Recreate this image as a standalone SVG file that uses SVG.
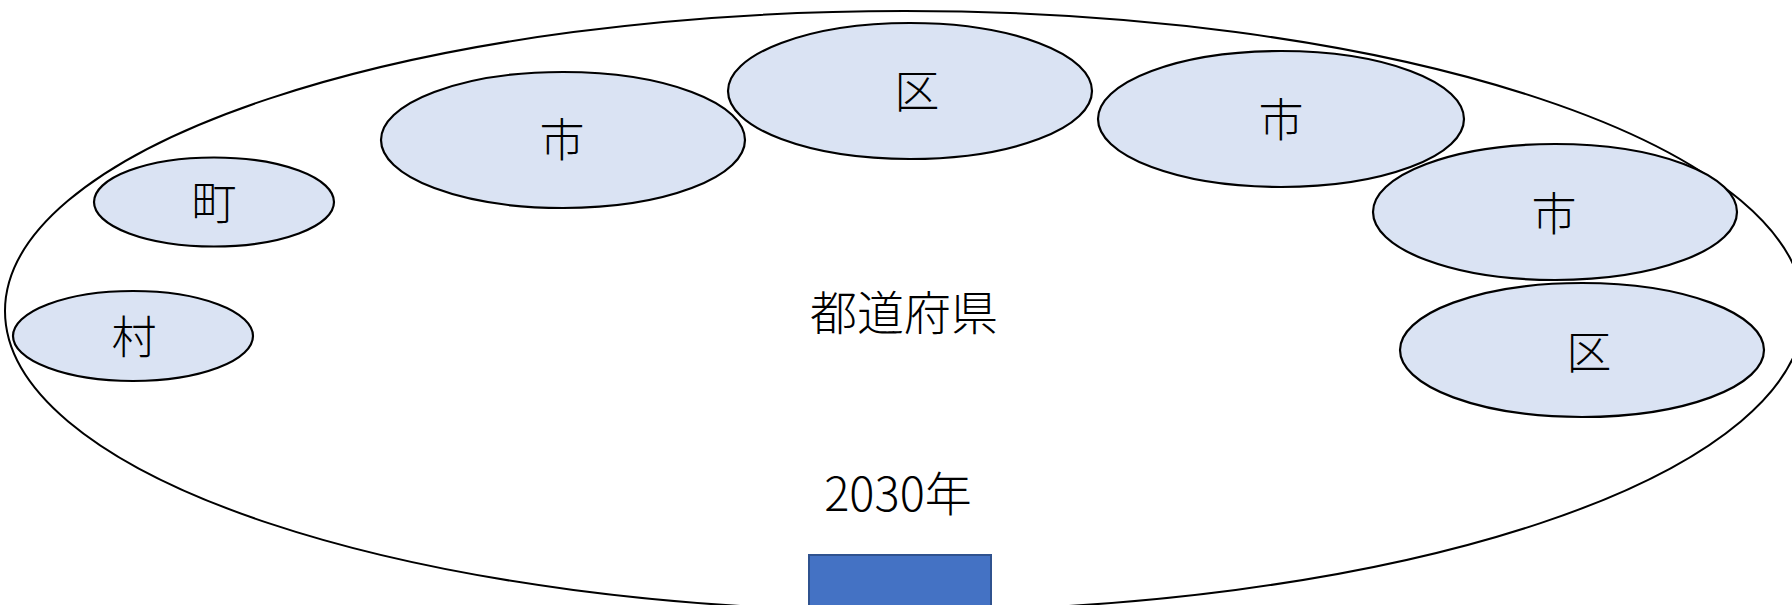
<svg xmlns="http://www.w3.org/2000/svg" width="1792" height="605" viewBox="0 0 1792 605">
<style>
.outer{fill:#ffffff;stroke:#000000;stroke-width:2}
.unit{fill:#DAE3F3;stroke:#000000;stroke-width:2.2}
.lbl{font-family:"Noto Sans CJK JP","Noto Sans",sans-serif;font-weight:300;font-size:45px;fill:#000000;text-anchor:middle;dominant-baseline:central}
.big{font-size:47px}
</style>
<rect width="1792" height="605" fill="#ffffff"/>
<g id="prefecture">
<ellipse class="outer" cx="904.5" cy="311" rx="899.5" ry="300"/>
<text class="lbl big" x="904" y="309">都道府県</text>
</g>
<g id="village">
<ellipse class="unit" cx="133" cy="336" rx="120" ry="45"/>
<text class="lbl" x="134" y="334">村</text>
</g>
<g id="town">
<ellipse class="unit" cx="214" cy="202" rx="120" ry="44.5"/>
<text class="lbl" x="214" y="200">町</text>
</g>
<g id="city1">
<ellipse class="unit" cx="563" cy="140" rx="182" ry="68"/>
<text class="lbl" x="562" y="137">市</text>
</g>
<g id="ward1">
<ellipse class="unit" cx="910" cy="91" rx="182" ry="68"/>
<text class="lbl" x="917" y="88">区</text>
</g>
<g id="city2">
<ellipse class="unit" cx="1281" cy="119" rx="183" ry="68"/>
<text class="lbl" x="1281" y="117">市</text>
</g>
<g id="city3">
<ellipse class="unit" cx="1555" cy="212" rx="182" ry="68"/>
<text class="lbl" x="1554" y="211">市</text>
</g>
<g id="ward2">
<ellipse class="unit" cx="1582" cy="350" rx="182" ry="67"/>
<text class="lbl" x="1589" y="349">区</text>
</g>
<g id="year">
<text class="lbl big" x="898" y="490">2030年</text>
</g>
<g id="bar">
<rect x="809" y="555" width="182" height="60" fill="#4472C4" stroke="#2F528F" stroke-width="2"/>
</g>
<g id="connectors"/>
</svg>
